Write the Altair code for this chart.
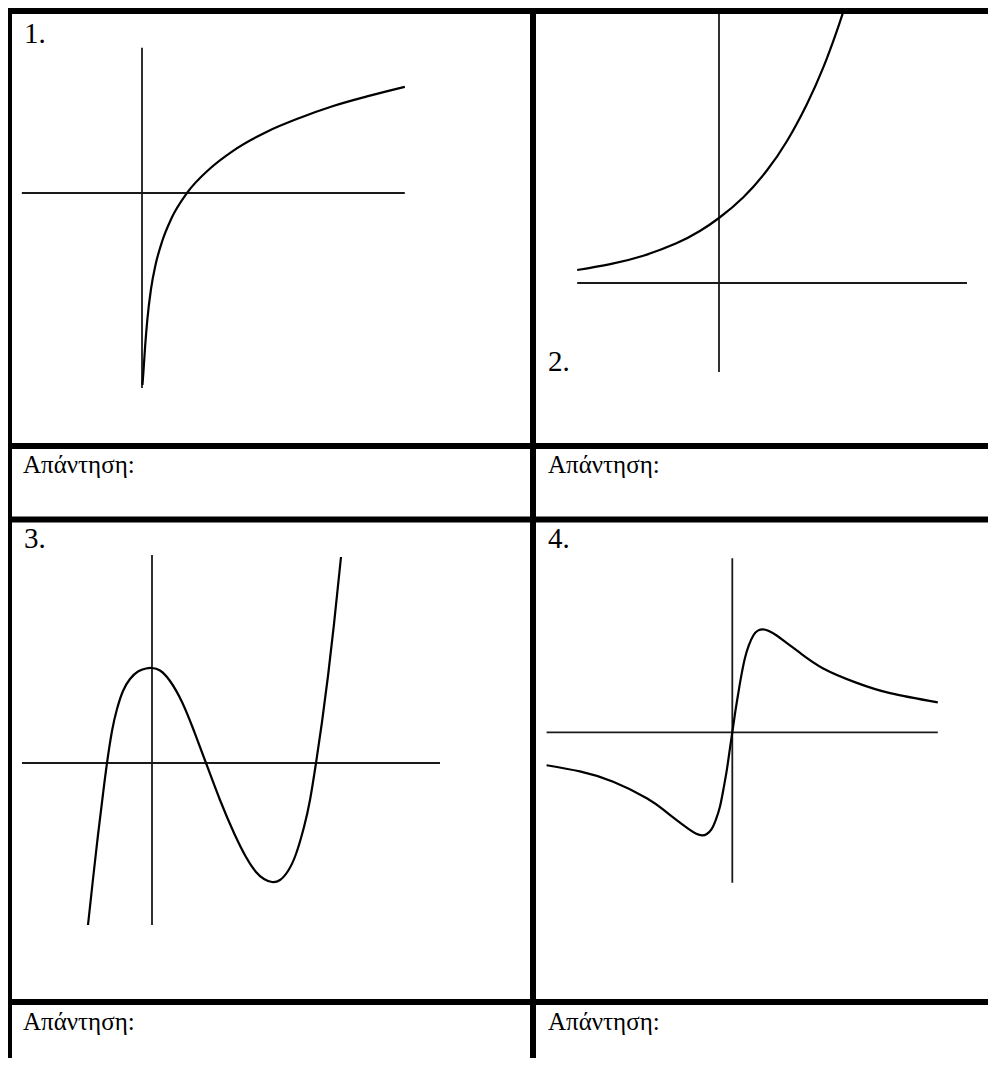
import altair as alt
import pandas as pd

# ---------------- data (each graph in its own math units, origin = axes crossing) ----------------
# Graph 1: logarithmic-type curve
g1_x = [0.01, 0.03, 0.07, 0.12, 0.2, 0.3, 0.45, 0.65, 1.0, 1.5, 2.0, 2.8, 3.5, 4.25, 5.0, 5.84]
g1_y = [-3.2, -3.0, -2.55, -2.1, -1.6, -1.2, -0.8, -0.43, 0.0, 0.4, 0.69, 1.03, 1.25, 1.45, 1.61, 1.77]
# Graph 2: exponential-type curve
g2_x = [-1.63, -1.25, -0.87, -0.49, -0.22, 0.0, 0.28, 0.55, 0.78, 1.01, 1.2, 1.35, 1.43]
g2_y = [0.2, 0.29, 0.42, 0.61, 0.8, 1.0, 1.32, 1.73, 2.18, 2.75, 3.32, 3.86, 4.18]
# Graph 3: cubic-type curve
g3_x = [-1.28, -1.18, -1.08, -0.98, -0.9, -0.8, -0.7, -0.58, -0.44, -0.28, -0.12, 0.0, 0.16, 0.36,
        0.6, 0.84, 1.08, 1.36, 1.64, 1.88, 2.08, 2.24, 2.4, 2.56, 2.72, 2.88, 3.04, 3.16, 3.28,
        3.4, 3.52, 3.64, 3.78]
g3_y = [-3.24, -2.32, -1.44, -0.62, 0.0, 0.64, 1.08, 1.44, 1.68, 1.83, 1.89, 1.9, 1.85, 1.64,
        1.22, 0.64, 0.0, -0.74, -1.4, -1.88, -2.18, -2.32, -2.38, -2.34, -2.16, -1.82, -1.28, -0.74, 0.0,
        0.82, 1.74, 2.78, 4.12]
# Graph 4: odd rational-type curve
g4_x = [-6.19, -5.08, -3.97, -2.85, -2.26, -1.8, -1.45, -1.2, -1.0, -0.85, -0.69, -0.55, -0.41, -0.3,
        -0.19, -0.1, 0.0, 0.1, 0.2, 0.3, 0.42, 0.55, 0.7, 0.85, 1.03, 1.2, 1.48, 1.8, 2.26, 3.03,
        4.15, 5.26, 6.85]
g4_y = [-0.32, -0.38, -0.48, -0.64, -0.76, -0.865, -0.94, -0.985, -1.0, -0.987, -0.94, -0.85, -0.72, -0.56,
        -0.38, -0.2, 0.0, 0.2, 0.38, 0.55, 0.72, 0.845, 0.94, 0.987, 1.0, 0.985, 0.94, 0.87, 0.77, 0.62,
        0.48, 0.38, 0.29]

# axis extents of each graph (math units): [xmin, xmax], [ymin, ymax]
axis_x_ext = [[-2.67, 5.84], [-1.63, 2.85], [-2.6, 5.76], [-6.19, 6.85]]
axis_y_ext = [[-3.25, 2.42], [-1.37, 4.15], [-3.24, 4.16], [-1.46, 1.69]]

number_labels = ["1.", "2.", "3.", "4."]
answer_label = "Απάντηση:"

# ---------------- layout (page pixels) ----------------
W, H = 980, 1050
origins = [(142, 193), (719, 283), (152, 763), (732.3, 732.3)]
units = [(45, 60), (87, 65), (50, 50), (30, 103)]
interp = ["monotone", "natural", "natural", "natural"]
num_pos = [(24, 43), (548, 371), (24, 548), (548, 548)]
ans_pos = [(23, 473), (548, 473), (23, 1030), (548, 1030)]
v_borders = [8, 533]
v_widths = [8, 6]
h_borders = [11, 446, 519.5, 1002]
SERIF = "Liberation Serif, DejaVu Serif, serif"

xs = alt.Scale(domain=[8, 8 + W], range=[0, W], nice=False, zero=False)
ys = alt.Scale(domain=[8, 8 + H], range=[0, H], nice=False, zero=False)

curves = [(g1_x, g1_y), (g2_x, g2_y), (g3_x, g3_y), (g4_x, g4_y)]

layers = []
# graph axes
for i, (ox, oy) in enumerate(origins):
    ux, uy = units[i]
    ax = pd.DataFrame({
        "x": [axis_x_ext[i][0], 0.0],
        "x2": [axis_x_ext[i][1], 0.0],
        "y": [0.0, axis_y_ext[i][0]],
        "y2": [0.0, axis_y_ext[i][1]],
    })
    layers.append(
        alt.Chart(ax).transform_calculate(
            px=f"{ox} + datum.x * {ux}", px2=f"{ox} + datum.x2 * {ux}",
            py=f"{oy} - datum.y * {uy}", py2=f"{oy} - datum.y2 * {uy}",
        ).mark_rule(color="#1a1a1a", strokeWidth=1.8).encode(
            x=alt.X("px:Q", scale=xs, axis=None),
            x2="px2:Q",
            y=alt.Y("py:Q", scale=ys, axis=None),
            y2="py2:Q",
        )
    )
# graph curves
for i, (cx, cy) in enumerate(curves):
    ox, oy = origins[i]
    ux, uy = units[i]
    df = pd.DataFrame({"x": cx, "y": cy, "order": list(range(len(cx)))})
    layers.append(
        alt.Chart(df).transform_calculate(
            px=f"{ox} + datum.x * {ux}", py=f"{oy} - datum.y * {uy}",
        ).mark_line(color="black", strokeWidth=2.2, interpolate=interp[i]).encode(
            x=alt.X("px:Q", scale=xs, axis=None),
            y=alt.Y("py:Q", scale=ys, axis=None),
            order="order:Q",
        )
    )

# table borders
vb = pd.DataFrame({"px": v_borders, "py": [8] * len(v_borders), "py2": [8 + H] * len(v_borders),
                   "w": v_widths})
hb = pd.DataFrame({"py": h_borders, "px": [8] * len(h_borders), "px2": [8 + W] * len(h_borders)})
layers.append(
    alt.Chart(vb).mark_rule(color="black").encode(
        x=alt.X("px:Q", scale=xs, axis=None),
        y=alt.Y("py:Q", scale=ys, axis=None),
        y2="py2:Q",
        strokeWidth=alt.StrokeWidth("w:Q", scale=None, legend=None),
    )
)
layers.append(
    alt.Chart(hb).mark_rule(color="black", strokeWidth=6).encode(
        x=alt.X("px:Q", scale=xs, axis=None),
        x2="px2:Q",
        y=alt.Y("py:Q", scale=ys, axis=None),
    )
)

# texts
nums = pd.DataFrame({"label": number_labels, "px": [p[0] for p in num_pos], "py": [p[1] for p in num_pos]})
ans = pd.DataFrame({"label": [answer_label] * 4, "px": [p[0] for p in ans_pos], "py": [p[1] for p in ans_pos]})
layers.append(
    alt.Chart(nums).mark_text(align="left", baseline="alphabetic", font=SERIF,
                              fontSize=29, color="black").encode(
        x=alt.X("px:Q", scale=xs, axis=None),
        y=alt.Y("py:Q", scale=ys, axis=None),
        text="label:N",
    )
)
layers.append(
    alt.Chart(ans).mark_text(align="left", baseline="alphabetic", font=SERIF,
                             fontSize=25, color="black").encode(
        x=alt.X("px:Q", scale=xs, axis=None),
        y=alt.Y("py:Q", scale=ys, axis=None),
        text="label:N",
    )
)

chart = alt.layer(*layers).properties(
    width=W, height=H, padding=0, autosize=alt.AutoSizeParams(type="none"), background="white"
).configure_view(stroke=None)

chart.save("out.html", embed_options={"renderer": "svg", "actions": False})
